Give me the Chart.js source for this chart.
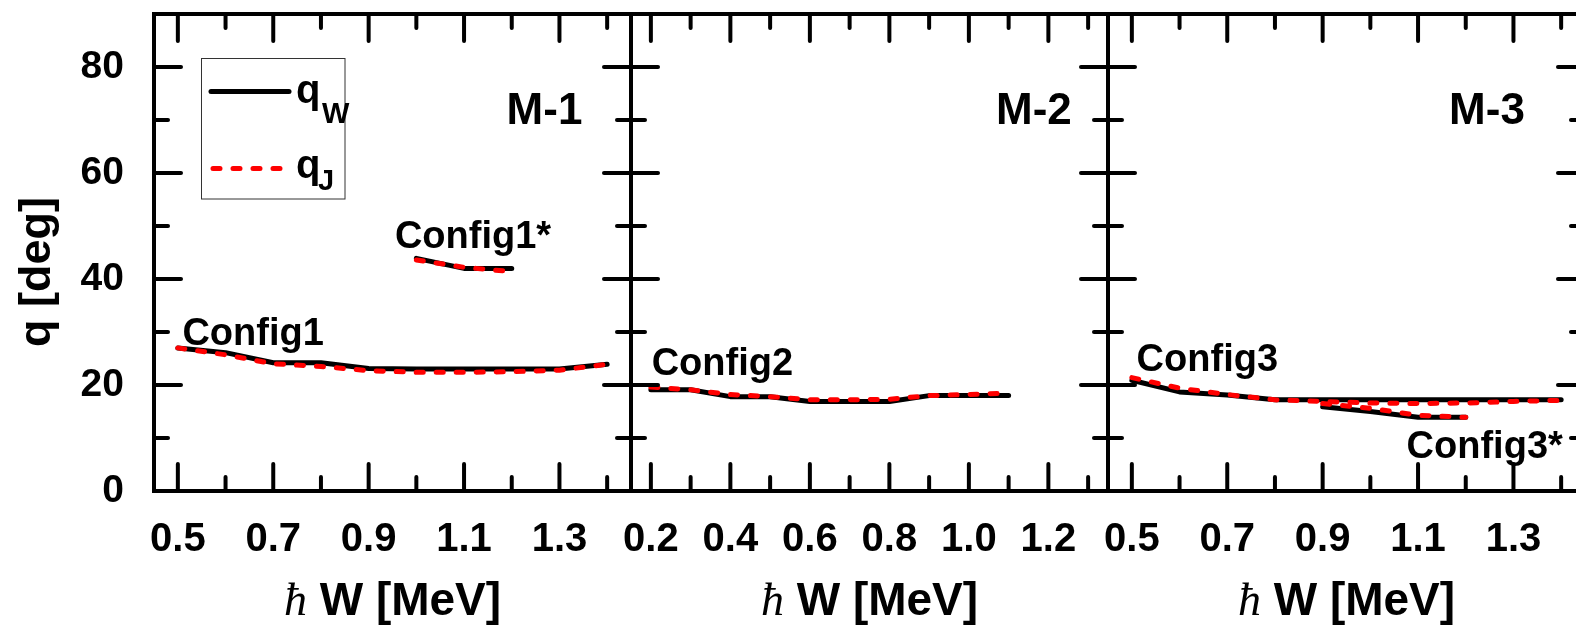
<!DOCTYPE html>
<html><head><meta charset="utf-8">
<script src="https://cdn.jsdelivr.net/npm/chart.js@4"></script>
<style>
html,body{margin:0;padding:0;background:#fff;overflow:hidden;}
#wrap{position:relative;width:1576px;height:625px;overflow:hidden;background:#fff;}
canvas{position:absolute;left:0;top:0;}
</style></head><body>
<div id="wrap">
<canvas id="c1" width="1600" height="625"></canvas>
<canvas id="c2" width="1600" height="625"></canvas>
<canvas id="c3" width="1600" height="625"></canvas>
</div>
<script>
// ---------- data ----------
const yLabelVals = [0, 20, 40, 60, 80];
const yMajor = [20, 40, 60, 80];
const yMinor = [10, 30, 50, 70];

// Panel M-1
const x1 = [0.5, 0.6, 0.7, 0.8, 0.9, 1.0, 1.1, 1.2, 1.3, 1.4];
const cfg1W = [27.0, 26.1, 24.2, 24.2, 23.1, 23.0, 23.0, 23.0, 23.0, 23.9];
const cfg1J = [27.0, 25.7, 24.0, 23.5, 22.7, 22.4, 22.4, 22.5, 22.8, 23.9];
const x1s = [1.0, 1.1, 1.2];
const cfg1sW = [43.9, 42.0, 42.0];
const cfg1sJ = [43.6, 42.2, 41.4];
const xLab1 = [0.5, 0.7, 0.9, 1.1, 1.3];
const xMin1 = [0.6, 0.8, 1.0, 1.2, 1.4];

// Panel M-2
const x2 = [0.2, 0.3, 0.4, 0.5, 0.6, 0.7, 0.8, 0.9, 1.0, 1.1];
const cfg2W = [19.1, 19.1, 17.8, 17.8, 16.9, 16.9, 16.9, 18.0, 18.0, 18.0];
const cfg2J = [19.6, 19.1, 18.2, 17.8, 17.2, 17.2, 17.3, 18.0, 18.2, 18.5];
const xLab2 = [0.2, 0.4, 0.6, 0.8, 1.0, 1.2];
const xMin2 = [0.3, 0.5, 0.7, 0.9, 1.1, 1.3];

// Panel M-3
const x3 = [0.5, 0.6, 0.7, 0.8, 0.9, 1.0, 1.1, 1.2, 1.3, 1.4];
const cfg3W = [20.9, 18.7, 18.1, 17.2, 17.2, 17.2, 17.2, 17.2, 17.2, 17.2];
const cfg3J = [21.4, 19.4, 18.2, 17.2, 16.9, 16.6, 16.5, 16.6, 16.9, 17.1];
const x3s = [0.9, 1.0, 1.1, 1.2];
const cfg3sW = [15.9, 15.0, 13.9, 13.9];
const cfg3sJ = [16.5, 15.6, 14.3, 13.9];
const xLab3 = [0.5, 0.7, 0.9, 1.1, 1.3];
const xMin3 = [0.6, 0.8, 1.0, 1.2, 1.4];

// ---------- styling ----------
const SANS = '"Liberation Sans", Arial, sans-serif';
const SERIF = '"Liberation Serif", "Times New Roman", serif';
const MAJ = 27, MINL = 14;

function ds(label, xs, ys, kind) {
  const isW = kind === 'W';
  return {
    label, data: xs.map((x, i) => ({x, y: ys[i]})),
    borderColor: isW ? '#000000' : '#ff0000',
    borderWidth: 5, borderDash: isW ? [] : [7, 13],
    borderCapStyle: 'round', borderJoinStyle: 'round',
    pointRadius: 0, tension: 0, fill: false, order: isW ? 2 : 1
  };
}

function zeroPad(s) { s.paddingLeft = 0; s.paddingRight = 0; s.paddingTop = 0; s.paddingBottom = 0; }

const deco = {
  id: 'deco',
  afterDatasetsDraw(chart, args, o) {
    const ctx = chart.ctx, a = chart.chartArea, xs = chart.scales.x, ys = chart.scales.y;
    ctx.save();
    ctx.strokeStyle = '#000'; ctx.fillStyle = '#000';
    ctx.lineWidth = 4; ctx.lineCap = 'round';
    const seg = (x1, y1, x2, y2) => { ctx.beginPath(); ctx.moveTo(x1, y1); ctx.lineTo(x2, y2); ctx.stroke(); };
    o.xMajor.forEach(v => { const p = xs.getPixelForValue(v); seg(p, a.bottom, p, a.bottom - MAJ); seg(p, a.top, p, a.top + MAJ); });
    o.xMinor.forEach(v => { const p = xs.getPixelForValue(v); seg(p, a.bottom, p, a.bottom - MINL); seg(p, a.top, p, a.top + MINL); });
    yMajor.forEach(v => { const p = ys.getPixelForValue(v); seg(a.left, p, a.left + MAJ, p); seg(a.right, p, a.right - MAJ, p); });
    yMinor.forEach(v => { const p = ys.getPixelForValue(v); seg(a.left, p, a.left + MINL, p); seg(a.right, p, a.right - MINL, p); });
    ctx.lineCap = 'butt'; ctx.lineJoin = 'miter';
    ctx.strokeRect(a.left, a.top, a.right - a.left, a.bottom - a.top);

    // annotations placed in data coordinates
    ctx.textBaseline = 'alphabetic';
    o.annots.forEach(t => {
      ctx.font = 'bold ' + t.size + 'px ' + SANS;
      ctx.textAlign = t.align || 'left';
      ctx.fillText(t.text, xs.getPixelForValue(t.x), ys.getPixelForValue(t.y));
    });

    // x axis title
    const cx = (a.left + a.right) / 2;
    ctx.textAlign = 'left';
    ctx.font = 'italic 46px ' + SERIF; const h = 'ħ'; const w1 = ctx.measureText(h).width;
    ctx.font = 'bold 46px ' + SANS; const rest = ' W [MeV]'; const w2 = ctx.measureText(rest).width;
    const x0 = cx - (w1 + w2) / 2;
    ctx.font = 'italic 46px ' + SERIF; ctx.fillText(h, x0, 615);
    ctx.font = 'bold 46px ' + SANS; ctx.fillText(rest, x0 + w1, 615);

    if (o.yTitle) {
      ctx.save();
      ctx.translate(50, 272); ctx.rotate(-Math.PI / 2);
      ctx.textAlign = 'center'; ctx.font = 'bold 45px ' + SANS;
      ctx.fillText('q [deg]', 0, 0);
      ctx.restore();
    }

    if (o.legend) {
      const dsW = chart.data.datasets[0], dsJ = chart.data.datasets[1];
      ctx.lineWidth = 1; ctx.strokeStyle = '#333'; ctx.setLineDash([]);
      ctx.strokeRect(201.5, 58.5, 143.5, 140.5);
      ctx.lineCap = 'round';
      ctx.strokeStyle = dsW.borderColor; ctx.lineWidth = dsW.borderWidth; ctx.setLineDash(dsW.borderDash);
      seg(211, 91.5, 289, 91.5);
      ctx.strokeStyle = dsJ.borderColor; ctx.lineWidth = dsJ.borderWidth; ctx.setLineDash(dsJ.borderDash);
      seg(213, 168.5, 282, 168.5);
      ctx.setLineDash([]);
      ctx.textAlign = 'left';
      ctx.font = 'bold 40px ' + SANS;
      ctx.fillText('q', 296, 103);
      ctx.fillText('q', 296, 178);
      ctx.font = 'bold 29px ' + SANS;
      ctx.fillText('W', 322, 123);
      ctx.fillText('J', 318, 190);
    }
    ctx.restore();
  }
};

function makeChart(id, c) {
  return new Chart(document.getElementById(id), {
    type: 'line',
    data: { datasets: c.datasets },
    options: {
      responsive: false, animation: false, events: [],
      layout: { padding: { left: c.padLeft, right: 1600 - c.right, top: 14, bottom: 0 } },
      plugins: { legend: { display: false }, tooltip: { enabled: false }, deco: c.deco },
      scales: {
        x: {
          type: 'linear', min: c.xmin, max: c.xmax,
          grid: { display: false, drawTicks: false }, border: { display: false },
          ticks: { color: '#000', font: { family: SANS, size: 40, weight: 'bold' }, padding: 25,
                   autoSkip: false, maxRotation: 0, minRotation: 0, callback: v => Number(v).toFixed(1) },
          afterBuildTicks: s => { s.ticks = c.xLab.map(v => ({ value: v })); },
          afterFit: s => { s.height = 134; zeroPad(s); }
        },
        y: {
          type: 'linear', min: 0, max: 90, display: c.showY,
          grid: { display: false, drawTicks: false }, border: { display: false },
          ticks: { color: '#000', font: { family: SANS, size: 39, weight: 'bold' }, padding: 30,
                   autoSkip: false, callback: v => String(v) },
          afterBuildTicks: s => { s.ticks = yLabelVals.map(v => ({ value: v })); },
          afterFit: s => { s.width = c.showY ? 154 : 0; zeroPad(s); }
        }
      }
    },
    plugins: [deco]
  });
}

makeChart('c1', {
  padLeft: 0, right: 631, xmin: 0.45, xmax: 1.45, xLab: xLab1, showY: true,
  datasets: [ds('qW', x1, cfg1W, 'W'), ds('qJ', x1, cfg1J, 'J'), ds('qW*', x1s, cfg1sW, 'W'), ds('qJ*', x1s, cfg1sJ, 'J')],
  deco: { xMajor: xLab1, xMinor: xMin1, yTitle: true, legend: true,
    annots: [
      { text: 'M-1', x: 1.348, y: 69.2, size: 44, align: 'right' },
      { text: 'Config1', x: 0.5095, y: 27.55, size: 38 },
      { text: 'Config1*', x: 0.955, y: 45.85, size: 38 }
    ] }
});
makeChart('c2', {
  padLeft: 631, right: 1108, xmin: 0.15, xmax: 1.35, xLab: xLab2, showY: false,
  datasets: [ds('qW', x2, cfg2W, 'W'), ds('qJ', x2, cfg2J, 'J')],
  deco: { xMajor: xLab2, xMinor: xMin2,
    annots: [
      { text: 'M-2', x: 1.259, y: 69.2, size: 44, align: 'right' },
      { text: 'Config2', x: 0.202, y: 21.9, size: 38 }
    ] }
});
makeChart('c3', {
  padLeft: 1108, right: 1585, xmin: 0.45, xmax: 1.45, xLab: xLab3, showY: false,
  datasets: [ds('qW', x3, cfg3W, 'W'), ds('qJ', x3, cfg3J, 'J'), ds('qW*', x3s, cfg3sW, 'W'), ds('qJ*', x3s, cfg3sJ, 'J')],
  deco: { xMajor: xLab3, xMinor: xMin3,
    annots: [
      { text: 'M-3', x: 1.324, y: 69.2, size: 44, align: 'right' },
      { text: 'Config3', x: 0.510, y: 22.6, size: 38 },
      { text: 'Config3*', x: 1.076, y: 6.2, size: 38 }
    ] }
});
</script>
</body></html>
